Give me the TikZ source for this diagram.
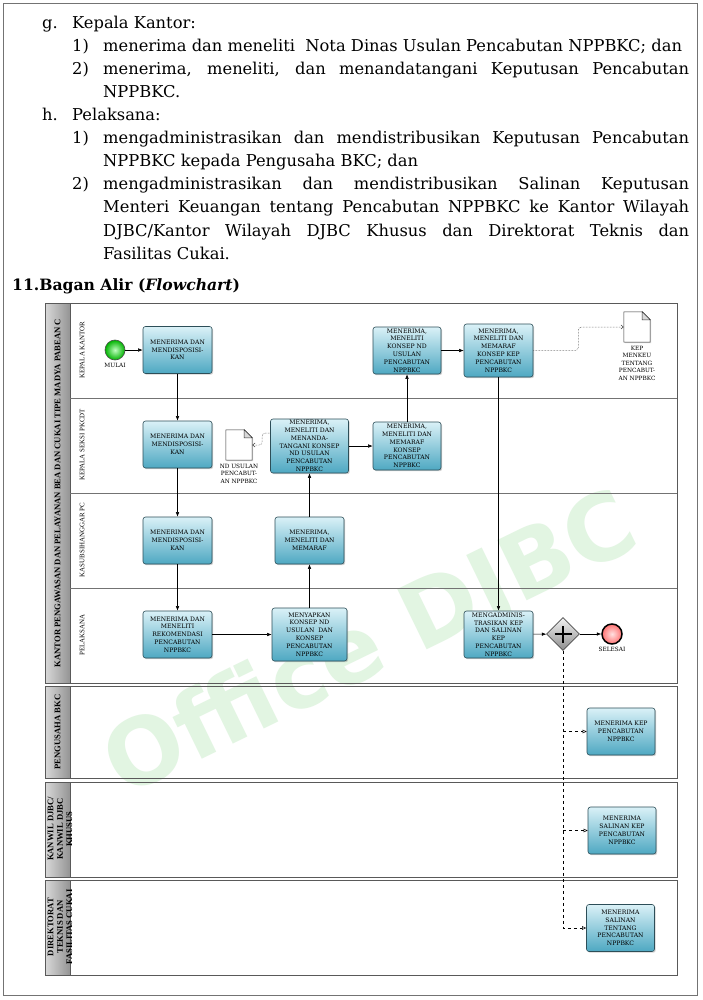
\documentclass[tikz,border=0pt]{standalone}
\usepackage{fontspec}
\setmainfont{DejaVu Serif}
\newfontfamily\flowfont{Liberation Serif}
\newfontfamily\boxfont{DejaVu Serif}
\newfontfamily\markfont{DejaVu Sans}
\usepackage{tikz}
\usetikzlibrary{positioning,shapes.geometric,shadows,arrows.meta}
\definecolor{taskTop}{RGB}{218,241,247}
\definecolor{taskBot}{RGB}{78,168,194}
\definecolor{taskLine}{RGB}{45,78,88}
\definecolor{wmGreen}{RGB}{226,245,226}
\tikzstyle{task}=[rectangle, rounded corners=2.5pt, draw=taskLine, line width=0.6pt,
  top color=taskTop, bottom color=taskBot, minimum width=69pt, minimum height=47pt,
  inner sep=0.5pt, align=center, font=\boxfont\fontsize{6.1}{7.8}\selectfont,
  drop shadow={opacity=0.35, shadow xshift=1.2pt, shadow yshift=-1.2pt}]
\tikzstyle{seqflow}=[-{Latex[length=4.5pt,width=3.5pt]}, line width=0.5pt]
\tikzstyle{docflow}=[densely dotted, -{Straight Barb[length=2.5pt,width=4pt]}, line width=0.5pt, rounded corners=3pt, black!75]
\tikzstyle{msgflow}=[dashed, -{Triangle[open,length=4pt,width=3.5pt]}, line width=0.5pt]
\tikzstyle{poolframe}=[draw=black!65, line width=0.9pt]
\tikzstyle{poolhead}=[left color=black!15, right color=black!42]
\tikzstyle{laneline}=[draw=black!55, line width=0.8pt]
\tikzstyle{pooltitle}=[rotate=90, align=center, font=\flowfont\bfseries\fontsize{8.6}{9.4}\selectfont]
\tikzstyle{lanetitle}=[rotate=90, font=\flowfont\fontsize{6.9}{8}\selectfont]
\tikzstyle{smalltext}=[align=center, inner sep=0.5pt, font=\boxfont\fontsize{5.8}{7.6}\selectfont]
\tikzstyle{docnode}=[rectangle, minimum width=26pt, minimum height=30pt, inner sep=0pt]
\tikzstyle{docline}=[draw=black!80, line width=0.5pt, fill=white]
\tikzstyle{bodytext}=[anchor=north west, inner sep=0pt, text width=647pt, align=justify,
  font=\fontsize{16.3}{23.1}\selectfont]
\newcommand{\docicon}[3]{%
  \node[docnode] (#1) at (#2) {};
  \draw[docline, drop shadow={opacity=0.3, shadow xshift=1pt, shadow yshift=-1pt}]
    (#1.south west) -- (#1.north west) -- ([xshift=-8pt]#1.north east)
    -- ([yshift=-8pt]#1.north east) -- (#1.south east) -- cycle;
  \draw[docline, fill=black!15] ([xshift=-8pt]#1.north east) -- ([xshift=-8pt,yshift=-8pt]#1.north east)
    -- ([yshift=-8pt]#1.north east) -- cycle;
  \node[smalltext, below=3pt of #1] (#1-lbl) {#3}%
}

\begin{document}
\begin{tikzpicture}[x=1pt,y=-1pt]
\useasboundingbox (0,0) rectangle (702,1000);
\fill[white] (0,0) rectangle (702,1000);
\draw[black!55, line width=0.8pt] (3,3) rectangle (697,995);

\node[bodytext] (body) at (42,11.8) {\parindent=0pt\hyphenpenalty=10000\parskip=0pt
\leftskip=0pt \noindent\strut\makebox[30pt][l]{g.}Kepala Kantor:\par
\leftskip=61pt \noindent\strut\llap{\makebox[31pt][l]{1)}}menerima dan meneliti\ \ Nota Dinas Usulan Pencabutan NPPBKC; dan\par
\noindent\strut\llap{\makebox[31pt][l]{2)}}menerima, meneliti, dan menandatangani Keputusan Pencabutan\linebreak NPPBKC.\par
\leftskip=0pt \noindent\strut\makebox[30pt][l]{h.}Pelaksana:\par
\leftskip=61pt \noindent\strut\llap{\makebox[31pt][l]{1)}}mengadministrasikan dan mendistribusikan Keputusan Pencabutan\linebreak NPPBKC kepada Pengusaha BKC; dan\par
\noindent\strut\llap{\makebox[31pt][l]{2)}}mengadministrasikan dan mendistribusikan Salinan Keputusan\linebreak Menteri Keuangan tentang Pencabutan NPPBKC ke Kantor Wilayah\linebreak DJBC/Kantor Wilayah DJBC Khusus dan Direktorat Teknis dan\linebreak Fasilitas Cukai.\par};
\node[anchor=base west, inner sep=0pt, font=\bfseries\fontsize{15.6}{18}\selectfont] (head) at (12,290)
  {11.Bagan Alir (\textit{Flowchart})};

\node[rotate=26, text=wmGreen, font=\markfont\bfseries\fontsize{92}{92}\selectfont] (wm) at (372,648) {Office DJBC};

\draw[poolframe] (45,303) rectangle (677,683);
\draw[poolframe] (45,686) rectangle (677,778);
\draw[poolframe] (45,782) rectangle (677,877);
\draw[poolframe] (45,880) rectangle (677,975);
\foreach \ya/\yb in {303/683,686/778,782/877,880/975}
  \shade[poolhead, draw=black!65, line width=0.9pt] (45,\ya) rectangle (70,\yb);
\foreach \y in {398,493,588}
  \draw[laneline] (70,\y) -- (677,\y);

\node[pooltitle] (pool1) at (57.5,493) {KANTOR PENGAWASAN DAN PELAYANAN BEA DAN CUKAI TIPE MADYA PABEAN C};
\node[pooltitle] (pool2) at (57.5,732) {PENGUSAHA BKC};
\node[pooltitle] (pool3) at (60,829) {KANWIL DJBC/\\KANWIL DJBC\\KHUSUS};
\node[pooltitle] (pool4) at (60,927) {DIREKTORAT\\TEKNIS DAN\\FASILITAS CUKAI};
\node[lanetitle] (lane1) at (82,350) {KEPALA KANTOR};
\node[lanetitle] (lane2) at (82,445) {KEPALA SEKSI PKCDT};
\node[lanetitle] (lane3) at (82,540) {KASUBSIHANGGAR PC};
\node[lanetitle] (lane4) at (82,635) {PELAKSANA};

\node[circle, minimum size=20pt, draw=black!70, line width=0.6pt, inner color=green!25, outer color=green!70!black] (start) at (115,350) {};
\node[smalltext, below=2pt of start] (start-lbl) {MULAI};
\node[task] (K1) at (177.5,350) {MENERIMA DAN\\MENDISPOSISI-\\KAN};
\node[task] (S1) at (177.5,444.5) {MENERIMA DAN\\MENDISPOSISI-\\KAN};
\node[task] (F1) at (177.5,540.5) {MENERIMA DAN\\MENDISPOSISI-\\KAN};
\node[task] (P1) at (177.5,634.5) {MENERIMA DAN\\MENELITI\\REKOMENDASI\\PENCABUTAN\\NPPBKC};
\node[task, minimum width=75pt, minimum height=53pt] (P2) at (309.5,634.5) {MENYAPKAN\\KONSEP ND\\USULAN\ \ DAN\\KONSEP\\PENCABUTAN\\NPPBKC};
\node[task] (F2) at (309.5,540.5) {MENERIMA,\\MENELITI DAN\\MEMARAF};
\node[task, minimum width=78pt, minimum height=54pt] (S2) at (309.5,446) {MENERIMA,\\MENELITI DAN\\MENANDA-\\TANGANI KONSEP\\ND USULAN\\PENCABUTAN\\NPPBKC};
\node[task, minimum width=68pt, minimum height=48pt] (S3) at (407,446) {MENERIMA,\\MENELITI DAN\\MEMARAF\\KONSEP\\PENCABUTAN\\NPPBKC};
\node[task, minimum width=68pt] (K2) at (407,350.5) {MENERIMA,\\MENELITI\\KONSEP ND\\USULAN\\PENCABUTAN\\NPPBKC};
\node[task, minimum height=53pt] (K3) at (498.5,350.5) {MENERIMA,\\MENELITI DAN\\MEMARAF\\KONSEP KEP\\PENCABUTAN\\NPPBKC};
\node[task] (P3) at (498.5,634.5) {MENGADMINIS-\\TRASIKAN KEP\\DAN SALINAN\\KEP\\PENCABUTAN\\NPPBKC};
\node[diamond, minimum size=33pt, inner sep=0pt, draw=black!70, line width=0.6pt, top color=black!5, bottom color=black!45] (gate) at (563,634) {};
\draw[line width=2.6pt] ([xshift=-8.5pt]gate.center) -- ([xshift=8.5pt]gate.center);
\draw[line width=2.6pt] ([yshift=-8.5pt]gate.center) -- ([yshift=8.5pt]gate.center);
\node[circle, minimum size=20pt, draw=black, line width=1.5pt, inner color=red!12, outer color=red!55] (end) at (612,634) {};
\node[smalltext, below=2pt of end] (end-lbl) {SELESAI};
\node[task, minimum width=68pt] (B1) at (621,731.5) {MENERIMA KEP\\PENCABUTAN\\NPPBKC};
\node[task, minimum width=68pt] (B2) at (622,830.5) {MENERIMA\\SALINAN KEP\\PENCABUTAN\\NPPBKC};
\node[task, minimum width=68pt] (B3) at (620.5,928) {MENERIMA\\SALINAN\\TENTANG\\PENCABUTAN\\NPPBKC};
\docicon{doc1}{239,445}{ND USULAN\\PENCABUT-\\AN NPPBKC};
\docicon{doc2}{637,327}{KEP\\MENKEU\\TENTANG\\PENCABUT-\\AN NPPBKC};

\draw[seqflow] (start) -- (K1);
\draw[seqflow] (K1) -- (S1);
\draw[seqflow] (S1) -- (F1);
\draw[seqflow] (F1) -- (P1);
\draw[seqflow] (P1) -- (P2);
\draw[seqflow] (P2) -- (F2);
\draw[seqflow] (F2) -- (S2);
\draw[seqflow] (S2) -- (S3);
\draw[seqflow] (S3) -- (K2);
\draw[seqflow] (K2) -- (K3);
\draw[seqflow] (K3) -- (P3);
\draw[seqflow] (P3) -- (gate);
\draw[seqflow] (gate) -- (end);
\draw[docflow] ([yshift=13pt]S2.west) -- ++(-8,0) |- (doc1.east);
\draw[docflow] (K3.east) -- ++(45,0) |- (doc2.west);
\draw[msgflow] (gate.south) |- (B3.west);
\draw[msgflow] (gate.south |- B1.west) -- (B1.west);
\draw[msgflow] (gate.south |- B2.west) -- (B2.west);
\end{tikzpicture}
\end{document}
